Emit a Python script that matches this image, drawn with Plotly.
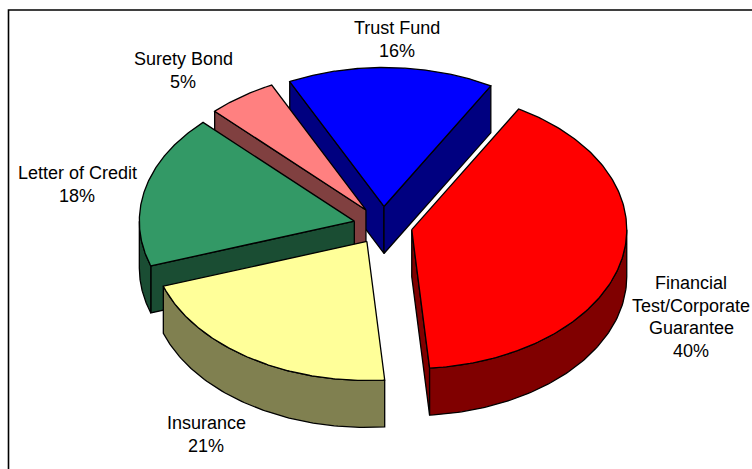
import numpy as np
import plotly.graph_objects as go

# Data, in drawing order clockwise from the top of the pie
categories = ["Trust Fund", "Financial Test/Corporate Guarantee", "Insurance", "Letter of Credit", "Surety Bond"]
values = [15.5, 40.4, 21.1, 17.8, 5.2]
label_lines = [["Trust Fund", "16%"],
               ["Financial", "Test/Corporate", "Guarantee", "40%"],
               ["Insurance", "21%"],
               ["Letter of Credit", "18%"],
               ["Surety Bond", "5%"]]
top_colors = ["#0000FF", "#FF0000", "#FFFF99", "#339966", "#FF8080"]
side_colors = ["#000080", "#800000", "#808050", "#1A4D33", "#804040"]
label_x = [396.5, 691, 206, 77, 183]
label_y = [28, 283, 423, 173, 59]

# Pie geometry (axis units equal pixels)
CX, CY, RX, RY = 383, 225.5, 215, 139
EXPLODE, DEPTH = 0.137, 47
START_DEG = -26
LINE_SPACING = 22.6
PAINT_ORDER = [0, 4, 3, 2, 1]

fractions = np.array(values) / sum(values)
edges = START_DEG + 360 * np.concatenate([[0], np.cumsum(fractions)])


def pt(deg, cx, cy):
    t = np.radians(deg)
    return cx + RX * np.sin(t), cy - RY * np.cos(t)


def poly(fig, xs, ys, color):
    fig.add_trace(go.Scatter(x=list(xs), y=list(ys), mode="lines", fill="toself", fillcolor=color,
                             line=dict(color="#000000", width=1.3), hoverinfo="skip", showlegend=False))


fig = go.Figure()
for i in PAINT_ORDER:
    a0, a1 = edges[i], edges[i + 1]
    mid = (a0 + a1) / 2
    mt = np.radians(mid)
    cx = CX + EXPLODE * RX * np.sin(mt)
    cy = CY - EXPLODE * RY * np.cos(mt)
    # visible cut faces
    for ang, visible in ((a0, np.sin(np.radians(a0)) < 0), (a1, np.sin(np.radians(a1)) > 0)):
        if visible:
            x, y = pt(ang, cx, cy)
            poly(fig, [cx, x, x, cx, cx], [cy, y, y + DEPTH, cy + DEPTH, cy], side_colors[i])
    # visible part of the outer wall
    w0 = max(a0, 90)
    w1 = min(a1, 270)
    if w1 > w0:
        arc = np.linspace(w0, w1, 80)
        x, y = pt(arc, cx, cy)
        poly(fig, np.r_[x, x[::-1], x[0]], np.r_[y, (y + DEPTH)[::-1], y[0]], side_colors[i])
    # top face
    arc = np.linspace(a0, a1, 160)
    x, y = pt(arc, cx, cy)
    poly(fig, np.r_[cx, x, cx], np.r_[cy, y, cy], top_colors[i])

annotations = []
for lines, lx, ly in zip(label_lines, label_x, label_y):
    for k, line in enumerate(lines):
        annotations.append(dict(x=lx, y=ly + k * LINE_SPACING, text=line, xref="x", yref="y",
                                showarrow=False, xanchor="center", yanchor="middle",
                                font=dict(family="Liberation Sans, Arial, sans-serif", size=18, color="#000000")))

fig.update_layout(
    width=752, height=469, margin=dict(l=0, r=0, t=0, b=0), autosize=False,
    paper_bgcolor="#FFFFFF", plot_bgcolor="#FFFFFF", showlegend=False, annotations=annotations,
    xaxis=dict(range=[0, 752], visible=False, fixedrange=True),
    yaxis=dict(range=[469, 0], visible=False, fixedrange=True),
    shapes=[dict(type="rect", xref="x", yref="y", x0=8.5, y0=10, x1=780, y1=480,
                 line=dict(color="#000000", width=1.6), layer="below")],
)
fig.write_html("out.html", config={"displayModeBar": False},
               post_script="document.body.style.margin='0';document.body.style.overflow='hidden';")
